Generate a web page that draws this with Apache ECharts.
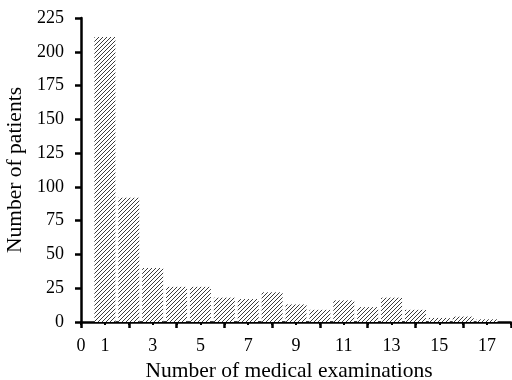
<!DOCTYPE html>
<html><head><meta charset="utf-8">
<script src="https://cdn.jsdelivr.net/npm/echarts@6/dist/echarts.min.js"></script>
<style>html,body{margin:0;padding:0;background:#fff}#c{width:512px;height:380px}</style>
</head><body><div id="c"></div>
<script>
var examinations = [1,2,3,4,5,6,7,8,9,10,11,12,13,14,15,16,17];
var patients = [211,92,40,26,26,18,17,22,13,9,16,11,18,9,3,4,2];
var yTicks = [0,25,50,75,100,125,150,175,200,225];

var pc = document.createElement('canvas');
pc.width = 4; pc.height = 4;
var g = pc.getContext('2d');
g.fillStyle = '#fff'; g.fillRect(0,0,4,4);
g.strokeStyle = '#3c3c3c'; g.lineWidth = 1;
g.beginPath();
g.moveTo(-1,5); g.lineTo(5,-1);
g.moveTo(-1,1); g.lineTo(1,-1);
g.moveTo(3,5); g.lineTo(5,3);
g.stroke();

var font = 'Liberation Serif';
var chart = echarts.init(document.getElementById('c'), null, {renderer:'canvas'});
chart.setOption({
  animation:false,
  backgroundColor:'#fff',
  grid:{left:81, right:1, top:18, bottom:58, containLabel:false, outerBoundsMode:'none'},
  xAxis:[{
    type:'value', min:0, max:18, interval:1, position:'bottom',
    axisLine:{show:true, lineStyle:{color:'#000', width:2.5}},
    axisTick:{show:true, length:3, lineStyle:{color:'#000', width:2}},
    splitLine:{show:false},
    axisLabel:{margin:15, color:'#000', fontFamily:font, fontSize:18,
      formatter:function(v){ return (v===0 || v%2===1) && v<18 ? String(v) : ''; }},
    name:'Number of medical examinations', nameLocation:'middle', nameGap:37,
    nameTextStyle:{color:'#000', fontFamily:font, fontSize:21.5, padding:[0,14,0,0]}
  },{
    type:'value', min:0, max:18, interval:2, position:'bottom',
    axisLine:{show:false},
    axisTick:{show:true, length:6, lineStyle:{color:'#000', width:2.5}},
    axisLabel:{show:false}, splitLine:{show:false}
  }],
  yAxis:{
    type:'value', min:0, max:225, interval:25,
    axisLine:{show:true, lineStyle:{color:'#000', width:2.5}},
    axisTick:{show:true, length:6, lineStyle:{color:'#000', width:2.5}},
    splitLine:{show:false},
    axisLabel:{margin:17, color:'#000', fontFamily:font, fontSize:18,
      formatter:function(v){ return yTicks.indexOf(v)>=0 ? String(v) : ''; }},
    name:'Number of patients', nameLocation:'middle', nameGap:53,
    nameTextStyle:{color:'#000', fontFamily:font, fontSize:21.5}
  },
  series:[{
    type:'bar', xAxisIndex:0,
    data: examinations.map(function(x,i){ return [x, patients[i]]; }),
    barWidth:21,
    itemStyle:{color:{image:pc, repeat:'repeat'}}
  }]
});
</script></body></html>
